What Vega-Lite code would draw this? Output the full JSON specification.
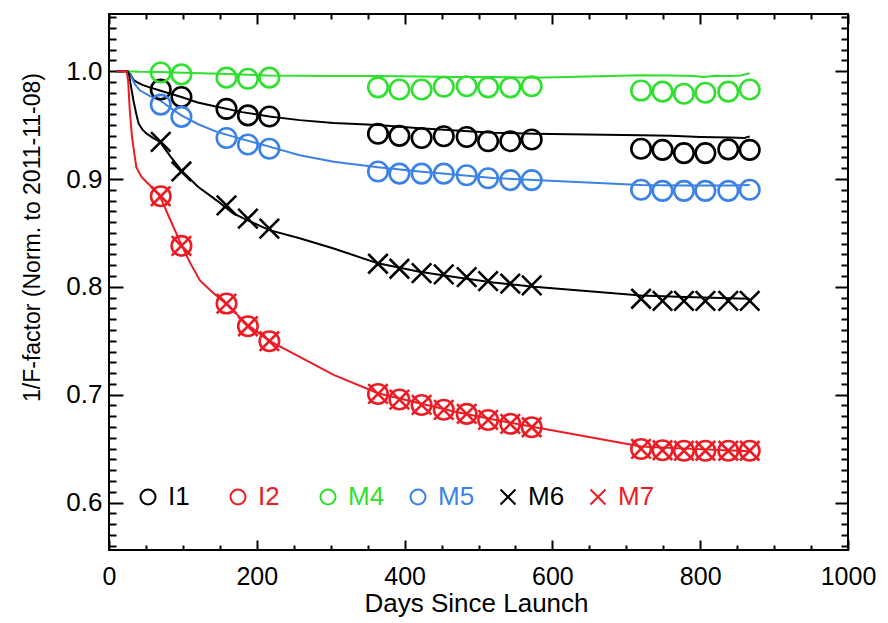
{
"$schema": "https://vega.github.io/schema/vega-lite/v6.json",
"width": 739, "height": 536,
"autosize": {"type": "none"},
"padding": {"left": 109, "top": 14, "right": 40, "bottom": 73},
"background": "white",
"config": {
  "view": {"stroke": "black", "strokeWidth": 2},
  "font": "Liberation Sans",
  "axis": {"grid": false, "domain": false, "tickColor": "black", "tickWidth": 2, "labelColor": "black", "titleColor": "black", "labelFont": "Liberation Sans", "titleFont": "Liberation Sans", "titleFontWeight": "normal", "labelFlush": false, "labelOverlap": false}
},
"datasets": {
  "lines": [
    {"band":"I1","day":10,"v":1.0},{"band":"I1","day":25,"v":1.0},{"band":"I1","day":29,"v":0.997},{"band":"I1","day":33,"v":0.992},{"band":"I1","day":40,"v":0.989},{"band":"I1","day":46,"v":0.987},{"band":"I1","day":55,"v":0.985},{"band":"I1","day":69,"v":0.982},{"band":"I1","day":83,"v":0.979},{"band":"I1","day":98,"v":0.976},{"band":"I1","day":120,"v":0.971},{"band":"I1","day":146,"v":0.967},{"band":"I1","day":180,"v":0.962},{"band":"I1","day":217,"v":0.958},{"band":"I1","day":258,"v":0.9546},{"band":"I1","day":304,"v":0.952},{"band":"I1","day":364,"v":0.95},{"band":"I1","day":420,"v":0.947},{"band":"I1","day":470,"v":0.945},{"band":"I1","day":520,"v":0.943},{"band":"I1","day":575,"v":0.942},{"band":"I1","day":720,"v":0.9405},{"band":"I1","day":760,"v":0.94},{"band":"I1","day":800,"v":0.939},{"band":"I1","day":840,"v":0.9385},{"band":"I1","day":860,"v":0.938},{"band":"I1","day":867,"v":0.9395},
    {"band":"M4","day":10,"v":1.0},{"band":"M4","day":25,"v":1.0},{"band":"M4","day":40,"v":0.9995},{"band":"M4","day":70,"v":0.9992},{"band":"M4","day":100,"v":0.9985},{"band":"M4","day":150,"v":0.9975},{"band":"M4","day":215,"v":0.996},{"band":"M4","day":300,"v":0.9955},{"band":"M4","day":364,"v":0.9954},{"band":"M4","day":420,"v":0.995},{"band":"M4","day":470,"v":0.9945},{"band":"M4","day":520,"v":0.9945},{"band":"M4","day":575,"v":0.994},{"band":"M4","day":720,"v":0.9962},{"band":"M4","day":760,"v":0.996},{"band":"M4","day":790,"v":0.9955},{"band":"M4","day":805,"v":0.9945},{"band":"M4","day":820,"v":0.9958},{"band":"M4","day":840,"v":0.9955},{"band":"M4","day":855,"v":0.996},{"band":"M4","day":867,"v":0.998},
    {"band":"M5","day":10,"v":1.0},{"band":"M5","day":25,"v":1.0},{"band":"M5","day":30,"v":0.995},{"band":"M5","day":35,"v":0.988},{"band":"M5","day":42,"v":0.982},{"band":"M5","day":55,"v":0.977},{"band":"M5","day":69,"v":0.973},{"band":"M5","day":83,"v":0.966},{"band":"M5","day":98,"v":0.959},{"band":"M5","day":120,"v":0.951},{"band":"M5","day":146,"v":0.9437},{"band":"M5","day":180,"v":0.937},{"band":"M5","day":217,"v":0.93},{"band":"M5","day":258,"v":0.922},{"band":"M5","day":304,"v":0.916},{"band":"M5","day":364,"v":0.911},{"band":"M5","day":420,"v":0.907},{"band":"M5","day":470,"v":0.904},{"band":"M5","day":520,"v":0.901},{"band":"M5","day":575,"v":0.899},{"band":"M5","day":720,"v":0.8945},{"band":"M5","day":780,"v":0.894},{"band":"M5","day":840,"v":0.894},{"band":"M5","day":867,"v":0.8945},
    {"band":"M6","day":10,"v":1.0},{"band":"M6","day":25,"v":1.0},{"band":"M6","day":27,"v":0.997},{"band":"M6","day":30,"v":0.985},{"band":"M6","day":33,"v":0.973},{"band":"M6","day":37,"v":0.96},{"band":"M6","day":40,"v":0.9515},{"band":"M6","day":45,"v":0.946},{"band":"M6","day":51,"v":0.942},{"band":"M6","day":60,"v":0.938},{"band":"M6","day":69,"v":0.9345},{"band":"M6","day":83,"v":0.921},{"band":"M6","day":98,"v":0.908},{"band":"M6","day":120,"v":0.893},{"band":"M6","day":146,"v":0.88},{"band":"M6","day":168,"v":0.868},{"band":"M6","day":190,"v":0.861},{"band":"M6","day":217,"v":0.8526},{"band":"M6","day":258,"v":0.845},{"band":"M6","day":304,"v":0.8355},{"band":"M6","day":364,"v":0.8218},{"band":"M6","day":420,"v":0.814},{"band":"M6","day":470,"v":0.809},{"band":"M6","day":520,"v":0.804},{"band":"M6","day":575,"v":0.8},{"band":"M6","day":720,"v":0.792},{"band":"M6","day":780,"v":0.7905},{"band":"M6","day":840,"v":0.7895},{"band":"M6","day":867,"v":0.789},
    {"band":"M7","day":10,"v":1.0},{"band":"M7","day":24,"v":1.0},{"band":"M7","day":26,"v":0.99},{"band":"M7","day":28,"v":0.965},{"band":"M7","day":31,"v":0.94},{"band":"M7","day":34,"v":0.925},{"band":"M7","day":37,"v":0.911},{"band":"M7","day":44,"v":0.902},{"band":"M7","day":51,"v":0.897},{"band":"M7","day":60,"v":0.891},{"band":"M7","day":69,"v":0.884},{"band":"M7","day":83,"v":0.862},{"band":"M7","day":98,"v":0.839},{"band":"M7","day":110,"v":0.822},{"band":"M7","day":123,"v":0.806},{"band":"M7","day":140,"v":0.795},{"band":"M7","day":158,"v":0.7845},{"band":"M7","day":188,"v":0.7645},{"band":"M7","day":217,"v":0.75},{"band":"M7","day":258,"v":0.735},{"band":"M7","day":304,"v":0.7183},{"band":"M7","day":364,"v":0.7013},{"band":"M7","day":420,"v":0.692},{"band":"M7","day":470,"v":0.684},{"band":"M7","day":520,"v":0.677},{"band":"M7","day":575,"v":0.67},{"band":"M7","day":720,"v":0.652},{"band":"M7","day":780,"v":0.65},{"band":"M7","day":867,"v":0.6475}
  ],
  "pts": [
    {"band":"I1","day":70,"v":0.983},{"band":"I1","day":98,"v":0.976},{"band":"I1","day":159,"v":0.965},{"band":"I1","day":188,"v":0.959},{"band":"I1","day":217,"v":0.958},{"band":"I1","day":364,"v":0.942},{"band":"I1","day":393,"v":0.94},{"band":"I1","day":423,"v":0.938},{"band":"I1","day":453,"v":0.9397},{"band":"I1","day":484,"v":0.939},{"band":"I1","day":513,"v":0.935},{"band":"I1","day":543,"v":0.935},{"band":"I1","day":572,"v":0.9366},{"band":"I1","day":720,"v":0.928},{"band":"I1","day":749,"v":0.927},{"band":"I1","day":778,"v":0.924},{"band":"I1","day":807,"v":0.924},{"band":"I1","day":838,"v":0.9275},{"band":"I1","day":867,"v":0.927},
    {"band":"I2","day":70,"v":0.884},{"band":"I2","day":98,"v":0.838},{"band":"I2","day":159,"v":0.7845},{"band":"I2","day":188,"v":0.7635},{"band":"I2","day":217,"v":0.7496},{"band":"I2","day":364,"v":0.7007},{"band":"I2","day":393,"v":0.6955},{"band":"I2","day":423,"v":0.6905},{"band":"I2","day":453,"v":0.686},{"band":"I2","day":484,"v":0.6822},{"band":"I2","day":513,"v":0.6766},{"band":"I2","day":543,"v":0.673},{"band":"I2","day":572,"v":0.6698},{"band":"I2","day":720,"v":0.6497},{"band":"I2","day":749,"v":0.6485},{"band":"I2","day":778,"v":0.648},{"band":"I2","day":807,"v":0.648},{"band":"I2","day":838,"v":0.648},{"band":"I2","day":867,"v":0.648},
    {"band":"M4","day":70,"v":0.9988},{"band":"M4","day":98,"v":0.997},{"band":"M4","day":159,"v":0.994},{"band":"M4","day":188,"v":0.993},{"band":"M4","day":217,"v":0.994},{"band":"M4","day":364,"v":0.985},{"band":"M4","day":393,"v":0.983},{"band":"M4","day":423,"v":0.983},{"band":"M4","day":453,"v":0.9855},{"band":"M4","day":484,"v":0.986},{"band":"M4","day":513,"v":0.985},{"band":"M4","day":543,"v":0.985},{"band":"M4","day":572,"v":0.986},{"band":"M4","day":720,"v":0.982},{"band":"M4","day":749,"v":0.981},{"band":"M4","day":778,"v":0.979},{"band":"M4","day":807,"v":0.98},{"band":"M4","day":838,"v":0.981},{"band":"M4","day":867,"v":0.983},
    {"band":"M5","day":70,"v":0.969},{"band":"M5","day":98,"v":0.9576},{"band":"M5","day":159,"v":0.938},{"band":"M5","day":188,"v":0.932},{"band":"M5","day":217,"v":0.928},{"band":"M5","day":364,"v":0.907},{"band":"M5","day":393,"v":0.905},{"band":"M5","day":423,"v":0.905},{"band":"M5","day":453,"v":0.905},{"band":"M5","day":484,"v":0.9035},{"band":"M5","day":513,"v":0.9007},{"band":"M5","day":543,"v":0.899},{"band":"M5","day":572,"v":0.899},{"band":"M5","day":720,"v":0.89},{"band":"M5","day":749,"v":0.889},{"band":"M5","day":778,"v":0.889},{"band":"M5","day":807,"v":0.889},{"band":"M5","day":838,"v":0.889},{"band":"M5","day":867,"v":0.89},
    {"band":"M6","day":70,"v":0.9344},{"band":"M6","day":98,"v":0.907},{"band":"M6","day":159,"v":0.8756},{"band":"M6","day":188,"v":0.8632},{"band":"M6","day":217,"v":0.854},{"band":"M6","day":364,"v":0.8214},{"band":"M6","day":393,"v":0.8168},{"band":"M6","day":423,"v":0.8128},{"band":"M6","day":453,"v":0.8115},{"band":"M6","day":484,"v":0.809},{"band":"M6","day":513,"v":0.8053},{"band":"M6","day":543,"v":0.803},{"band":"M6","day":572,"v":0.8013},{"band":"M6","day":720,"v":0.789},{"band":"M6","day":749,"v":0.787},{"band":"M6","day":778,"v":0.787},{"band":"M6","day":807,"v":0.787},{"band":"M6","day":838,"v":0.787},{"band":"M6","day":867,"v":0.787},
    {"band":"M7","day":70,"v":0.884},{"band":"M7","day":98,"v":0.838},{"band":"M7","day":159,"v":0.7845},{"band":"M7","day":188,"v":0.7635},{"band":"M7","day":217,"v":0.7496},{"band":"M7","day":364,"v":0.7007},{"band":"M7","day":393,"v":0.6955},{"band":"M7","day":423,"v":0.6905},{"band":"M7","day":453,"v":0.686},{"band":"M7","day":484,"v":0.6822},{"band":"M7","day":513,"v":0.6766},{"band":"M7","day":543,"v":0.673},{"band":"M7","day":572,"v":0.6698},{"band":"M7","day":720,"v":0.6497},{"band":"M7","day":749,"v":0.6485},{"band":"M7","day":778,"v":0.648},{"band":"M7","day":807,"v":0.648},{"band":"M7","day":838,"v":0.648},{"band":"M7","day":867,"v":0.648}
  ]
},
"layer": [
  {
    "data": {"name": "lines"},
    "mark": {"type": "line", "strokeWidth": 2},
    "encoding": {
      "x": {"field": "day", "type": "quantitative", "scale": {"domain": [0, 1000], "nice": false, "zero": false},
        "axis": {"orient": "bottom", "values": [0,50,100,150,200,250,300,350,400,450,500,550,600,650,700,750,800,850,900,950,1000], "format": "d",
          "tickSize": {"expr": "datum.value % 200 === 0 ? -10 : -5"},
          "labelExpr": "datum.value % 200 === 0 ? datum.label : ''", "labelFontSize": 25, "labelPadding": 44, "labelBaseline": "alphabetic",
          "title": "Days Since Launch", "titleFontSize": 26, "titleX": 367, "titleY": 61, "titleBaseline": "alphabetic", "titleAlign": "center"}},
      "y": {"field": "v", "type": "quantitative", "scale": {"domain": [0.556, 1.053], "nice": false, "zero": false},
        "axis": {"orient": "left", "values": [0.56,0.57,0.58,0.59,0.6,0.61,0.62,0.63,0.64,0.65,0.66,0.67,0.68,0.69,0.7,0.71,0.72,0.73,0.74,0.75,0.76,0.77,0.78,0.79,0.8,0.81,0.82,0.83,0.84,0.85,0.86,0.87,0.88,0.89,0.9,0.91,0.92,0.93,0.94,0.95,0.96,0.97,0.98,0.99,1.0,1.01,1.02,1.03,1.04,1.05],
          "tickSize": {"expr": "abs(datum.value*10 - round(datum.value*10)) < 0.000001 ? -14 : -7"},
          "labelExpr": "abs(datum.value*10 - round(datum.value*10)) < 0.000001 ? format(datum.value, '.1f') : ''", "labelFontSize": 26, "labelPadding": 21,
          "title": "1/F-factor (Norm. to 2011-11-08)", "titleFontSize": 23, "titleX": -77, "titleY": 223, "titleAngle": -90, "titleBaseline": "middle", "titleAlign": "center"}},
      "stroke": {"field": "band", "type": "nominal", "scale": {"domain": ["I1","M4","M5","M6","M7"], "range": ["#000000","#2fe02f","#3b82e8","#000000","#ec1c24"]}, "legend": null}
    }
  },
  {
    "data": {"name": "pts"},
    "mark": {"type": "point", "filled": false, "size": 380, "strokeWidth": 2.6, "opacity": 1},
    "encoding": {
      "x": {"field": "day", "type": "quantitative",
        "axis": {"orient": "top", "values": [0,50,100,150,200,250,300,350,400,450,500,550,600,650,700,750,800,850,900,950,1000], "labels": false, "title": null,
          "tickSize": {"expr": "datum.value % 200 === 0 ? -10 : -5"}}},
      "y": {"field": "v", "type": "quantitative",
        "axis": {"orient": "right", "values": [0.56,0.57,0.58,0.59,0.6,0.61,0.62,0.63,0.64,0.65,0.66,0.67,0.68,0.69,0.7,0.71,0.72,0.73,0.74,0.75,0.76,0.77,0.78,0.79,0.8,0.81,0.82,0.83,0.84,0.85,0.86,0.87,0.88,0.89,0.9,0.91,0.92,0.93,0.94,0.95,0.96,0.97,0.98,0.99,1.0,1.01,1.02,1.03,1.04,1.05], "labels": false, "title": null,
          "tickSize": {"expr": "abs(datum.value*10 - round(datum.value*10)) < 0.000001 ? -13 : -7"}}},
      "color": {"field": "band", "type": "nominal",
        "scale": {"domain": ["I1","I2","M4","M5","M6","M7"], "range": ["#000000","#ec1c24","#2fe02f","#3b82e8","#000000","#ec1c24"]},
        "legend": {"title": null, "orient": "none", "legendX": 26, "legendY": 470, "direction": "horizontal", "columns": 6, "gridAlign": "all", "columnPadding": 20, "padding": 0,
          "symbolSize": 225, "symbolStrokeWidth": 2, "labelFontSize": 26, "labelFont": "Liberation Sans", "labelOffset": 7, "labelLimit": 0,
          "labelColor": {"expr": "datum.value === 'I2' || datum.value === 'M7' ? '#ec1c24' : datum.value === 'M4' ? '#2fe02f' : datum.value === 'M5' ? '#3b82e8' : '#000000'"}}},
      "shape": {"field": "band", "type": "nominal",
        "scale": {"domain": ["I1","I2","M4","M5","M6","M7"], "range": ["circle","circle","circle","circle","M-1,-1L1,1M1,-1L-1,1","M-1,-1L1,1M1,-1L-1,1"]},
        "legend": {"title": null, "orient": "none", "legendX": 26, "legendY": 470, "direction": "horizontal", "columns": 6, "gridAlign": "all", "columnPadding": 20, "padding": 0,
          "symbolSize": 225, "symbolStrokeWidth": 2, "labelFontSize": 26, "labelFont": "Liberation Sans", "labelOffset": 7, "labelLimit": 0,
          "labelColor": {"expr": "datum.value === 'I2' || datum.value === 'M7' ? '#ec1c24' : datum.value === 'M4' ? '#2fe02f' : datum.value === 'M5' ? '#3b82e8' : '#000000'"}}}
    }
  }
],
"resolve": {"axis": {"x": "independent", "y": "independent"}}
}
